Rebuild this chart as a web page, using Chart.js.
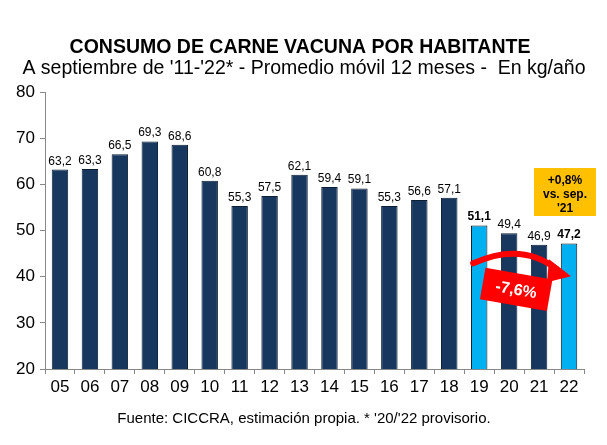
<!DOCTYPE html>
<html>
<head>
<meta charset="utf-8">
<title>Consumo de carne vacuna</title>
<style>
body { margin: 0; background: white; }
#wrap { width: 607px; height: 445px; }
</style>
</head>
<body>
<div id="wrap"><canvas id="chart" width="607" height="445"></canvas></div>
<script src="https://cdn.jsdelivr.net/npm/chart.js@4"></script>
<script>
// datos
var years = ['05','06','07','08','09','10','11','12','13','14','15','16','17','18','19','20','21','22'];
var consumo = [63.2, 63.3, 66.5, 69.3, 68.6, 60.8, 55.3, 57.5, 62.1, 59.4, 59.1, 55.3, 56.6, 57.1, 51.1, 49.4, 46.9, 47.2];
var destacados = ['19', '22'];
var yTicks = [20, 30, 40, 50, 60, 70, 80];
var titulo = 'CONSUMO DE CARNE VACUNA POR HABITANTE';
var subtitulo = "A septiembre de '11-'22* - Promedio móvil 12 meses -  En kg/año";
var fuente = "Fuente: CICCRA, estimación propia. * '20/'22 provisorio.";
var notaVar = '-7,6%';
var notaSep = ['+0,8%', 'vs. sep.', "'21"];

var FONT = 'Liberation Sans, Arial, sans-serif';
var NAVY = '#17375E';
var CELESTE = '#00B0F0';

var colores = years.map(function (y) { return destacados.indexOf(y) >= 0 ? CELESTE : NAVY; });
var bordes = years.map(function (y) { return destacados.indexOf(y) >= 0 ? '#111' : '#0c1e33'; });

function fmt(v) { return v.toFixed(1).replace('.', ','); }

// textos, etiquetas y flechas
var extras = {
	id: 'extras',
	afterDatasetsDraw: function (chart) {
		var ctx = chart.ctx;
		var meta = chart.getDatasetMeta(0);
		var xs = chart.scales.x, ys = chart.scales.y;
		ctx.save();
		ctx.fillStyle = '#000';
		ctx.textAlign = 'center';
		ctx.textBaseline = 'alphabetic';
		meta.data.forEach(function (bar, i) {
			var bold = destacados.indexOf(years[i]) >= 0;
			ctx.font = (bold ? 'bold ' : '') + '12px ' + FONT;
			ctx.fillText(fmt(consumo[i]), bar.x, bar.y - 5);
		});

		// titulos
		ctx.font = 'bold 19.5px ' + FONT;
		ctx.fillText(titulo, 300, 53);
		ctx.font = '19.5px ' + FONT;
		ctx.fillText(subtitulo, 304, 74);
		ctx.font = '15px ' + FONT;
		ctx.fillText(fuente, 304, 423);

		// flecha curva roja
		var x19 = xs.getPixelForValue(14), x22 = xs.getPixelForValue(17);
		var yb = ys.getPixelForValue(47);
		ctx.strokeStyle = '#FF0000';
		ctx.fillStyle = '#FF0000';
		ctx.lineWidth = 6;
		ctx.lineCap = 'round';
		ctx.beginPath();
		ctx.moveTo(x19 - 6, yb + 19);
		ctx.quadraticCurveTo(x19 + 42, yb - 3, x22 - 12, yb + 25);
		ctx.stroke();
		ctx.beginPath();
		ctx.moveTo(x22 - 20, yb + 15);
		ctx.lineTo(x22 + 2, yb + 32);
		ctx.lineTo(x22 - 22, yb + 38);
		ctx.closePath();
		ctx.fill();

		// caja roja rotada
		ctx.save();
		ctx.translate(x19 + 37, yb + 45);
		ctx.rotate(10 * Math.PI / 180);
		ctx.fillRect(-34, -16, 68, 32);
		ctx.fillStyle = '#fff';
		ctx.font = 'bold 16px ' + FONT;
		ctx.textBaseline = 'middle';
		ctx.fillText(notaVar, 0, 1);
		ctx.restore();

		// caja naranja
		ctx.fillStyle = '#FFC000';
		ctx.fillRect(534, 168, 62, 48);
		ctx.fillStyle = '#000';
		ctx.font = 'bold 12px ' + FONT;
		ctx.fillText(notaSep[0], 565, 184);
		ctx.fillText(notaSep[1], 565, 198);
		ctx.fillText(notaSep[2], 565, 212);
		ctx.restore();
	}
};

new Chart(document.getElementById('chart'), {
	type: 'bar',
	data: {
		labels: years,
		datasets: [{
			data: consumo,
			backgroundColor: colores,
			borderColor: bordes,
			borderWidth: 1,
			barPercentage: 0.55,
			categoryPercentage: 1.0
		}]
	},
	options: {
		responsive: false,
		animation: false,
		events: [],
		layout: { padding: { top: 92, right: 23, bottom: 44, left: 0 } },
		plugins: {
			legend: { display: false },
			tooltip: { enabled: false }
		},
		scales: {
			x: {
				offset: true,
				grid: { display: true, offset: true, drawOnChartArea: false, drawTicks: true, tickLength: 5, color: '#888' },
				border: { color: '#888', width: 1 },
				ticks: { color: '#000', font: { family: FONT, size: 17 }, padding: 3, maxRotation: 0, autoSkip: false },
				afterFit: function (s) { s.height = 32; }
			},
			y: {
				min: 20,
				max: 80,
				afterBuildTicks: function (s) { s.ticks = yTicks.map(function (v) { return { value: v }; }); },
				grid: { display: true, drawOnChartArea: false, drawTicks: true, tickLength: 5, color: '#888' },
				border: { color: '#888', width: 1 },
				ticks: { color: '#000', font: { family: FONT, size: 17 }, padding: 5 },
				afterFit: function (s) { s.width = 45; }
			}
		}
	},
	plugins: [extras]
});
</script>
</body>
</html>
